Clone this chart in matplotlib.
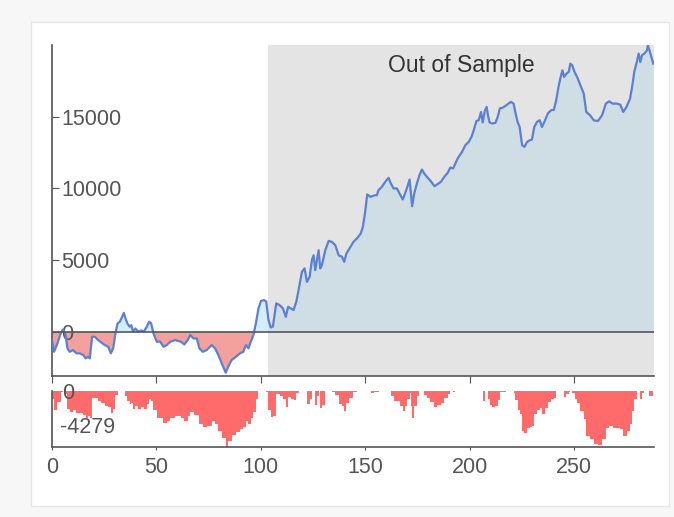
import numpy as np
import pandas as pd
import matplotlib
matplotlib.use('Agg')
import matplotlib.pyplot as plt
from matplotlib.patches import Rectangle
import matplotlib.transforms as mtransforms

plt.rcParams['font.family'] = ['Liberation Sans', 'DejaVu Sans']

# equity curve (x = bar index, y = cumulative P&L)
x_vals = [
    0, 1, 2.6, 4.2, 5.3, 6.3, 7.4, 8.5, 10.1, 11.7, 13.3, 15, 16.1, 17.4, 18.1,
    19.2, 20.5, 22.1, 23.7, 25.3, 26.9, 28.2, 29.3, 30.4, 31.4, 32.5, 33.6, 34.4,
    35.2, 36.1, 37.2, 38, 38.8, 39.9, 41.2, 42.8, 44, 45.4, 46.5, 47.5, 48.6,
    50.2, 51.8, 53.4, 55, 56.6, 59, 61.8, 63.4, 65, 66.2, 67.8, 69.4, 70.6, 72.2,
    74.1, 76.5, 78.1, 79.7, 81.3, 83.2, 84.4, 86, 88.1, 90, 91.6, 92.9, 94.1,
    95.2, 96.5, 97.8, 98.9, 100.1, 101.6, 102.6,
    103.7, 104.8, 105.8, 107.4, 109, 110.6, 112, 113.1, 114.4, 115.7, 117, 118.1,
    119.7, 121, 122.1, 123.4, 124.5, 125.3, 126.1, 126.9, 127.7, 128.5, 129.3,
    130.9, 132.5, 134.1, 135.7, 137.3, 138.9, 140, 141, 142.5, 144.4, 146.3,
    147.9, 148.9, 149.9, 151, 152.6, 154.2, 155.6, 156.4, 158, 159.6, 161.2,
    162.3, 163.6, 165.2, 166.5, 168, 169.1, 170.2, 171.3, 171.9, 172.5, 173.5,
    174.8, 176, 177.2, 178.3, 179.6, 181.3, 183.2, 184.5, 186.3, 187.9, 189.5,
    190.8, 192.1, 193.2, 194.3, 196.4, 198, 199.6, 200.9, 202, 203.3, 204.4,
    205.5, 206.3, 207.3, 208.2, 208.8, 209.6, 210.8, 212.4, 213.5, 214.5, 216.1,
    217.6, 218.7, 219.8, 221.1, 221.9, 223, 224, 225.2, 226.3, 227.6, 228.8,
    229.9, 231, 232.3, 233.6, 234.7, 236.2, 237.5, 239.1, 240.4, 241.5, 242.6,
    243.7, 244.5, 245.3, 246.4, 247.5, 248.3, 249.2, 250.3, 251.4, 253.1, 254.7,
    255.9, 257.7, 259.6, 261.5, 263.5, 265.3, 266.9, 268.5, 270.6, 272.2, 273.6,
    275.2, 276.9, 278, 278.9, 280.3, 281, 281.8, 282.6, 283.7, 285, 285.4, 286.2,
    288,
]
equity = [
    -590, -1410, -820, -100, 150, -100, -1170, -1410, -1290, -1520, -1520, -1640,
    -1870, -1750, -1870, -360, -360, -590, -780, -940, -1060, -1520, -1170, -130,
    570, 690, 1030, 1310, 920, 570, 340, 450, 0, 220, 0, 80, 0, 340, 690, 570,
    -130, -710, -700, -1060, -940, -710, -590, -710, -900, -590, -240, -480, -480,
    -1170, -1410, -1290, -940, -1170, -1640, -2220, -2870, -2450, -1990, -1760,
    -1520, -1410, -940, -1170, -710, -240, 690, 1620, 2130, 2200, 2100,
    800, 290, 350, 1970, 1850, 1620, 1030, 1730, 1620, 1500, 2080, 2890,
    4170, 4410, 3470, 3820, 4990, 5330, 4290, 4990, 5680, 4410, 4640,
    5680, 6330, 6260, 6030, 5330, 5220, 4870, 5450, 5800, 6260, 6540,
    6850, 7310, 8240, 9570, 9400, 9500, 9520, 9870, 10100, 10450, 10730,
    10340, 9990, 9990, 9640, 9220, 9640, 10100, 10610, 9640, 8750, 9640,
    10340, 10910, 11310, 11030, 10800, 10520, 10150, 10270, 10450, 10800, 11070,
    11450, 11380, 11730, 12080, 12540, 13010, 13240, 13580, 14050, 14700, 14750,
    15330, 14600, 15400, 15680, 15100, 14600, 14520, 14570, 14980, 15570, 15640,
    15800, 15910, 16030, 15910, 15330, 14630, 14280, 13010, 12890, 13240, 13350,
    13400, 14280, 14630, 14750, 14280, 14750, 15220, 15450, 15480, 16140, 17070,
    17810, 18230, 17770, 18000, 18120, 18700, 18580, 18120, 17810, 17190, 16610,
    15330, 15100, 14730, 14700, 15100, 15910, 16070, 15910, 15910, 15840, 15330,
    15680, 16260, 17190, 18120, 18930, 19400, 18810, 19280, 19400, 19630, 19980, 19630,
    18700,
]
oos_start = 103.6
main_yticks = [0, 5000, 10000, 15000]
x_ticks = [0, 50, 100, 150, 200, 250]
dd_label = '-4279'

xs = np.array(x_vals, dtype=float)
eq = pd.Series(equity, dtype=float)
# drawdown from running peak (starting capital as zero baseline)
peak = eq.clip(lower=0).cummax()
dd = (eq - peak).to_numpy()
x_end = 288.5

fig = plt.figure(figsize=(6.74, 5.17), dpi=100)
fig.patch.set_facecolor('#f7f7f7')
fig.patches.append(Rectangle((31 / 674, 1 - 506 / 517), 638 / 674, 484 / 517,
                             transform=fig.transFigure, facecolor='white',
                             edgecolor='#e6e6e6', lw=1, zorder=-10))

ax = fig.add_axes([52 / 674, 141 / 517, 602.3 / 674, 331 / 517])
ax2 = fig.add_axes([52 / 674, 70 / 517, 602.3 / 674, 56 / 517], sharex=ax)
for a in (ax, ax2):
    a.set_facecolor('none')
    for s in ('top', 'right'):
        a.spines[s].set_visible(False)
    for s in ('left', 'bottom'):
        a.spines[s].set_color('#555555')
        a.spines[s].set_linewidth(1.2)

# --- main equity panel ---
ax.axvspan(oos_start, x_end, color='#e4e4e4', lw=0, zorder=0)
is_clip = Rectangle((0, -1e6), oos_start, 2e6, transform=ax.transData)
oos_clip = Rectangle((oos_start, -1e6), 1000, 2e6, transform=ax.transData)
pos = ax.fill_between(xs, equity, 0, where=eq.to_numpy() >= 0, interpolate=True,
                      color='#d3eefa', lw=0, zorder=1)
neg = ax.fill_between(xs, equity, 0, where=eq.to_numpy() <= 0, interpolate=True,
                      color='#f4a09c', lw=0, zorder=1)
pos.set_clip_path(is_clip)
neg.set_clip_path(is_clip)
oos = ax.fill_between(xs, equity, 0, color='#cfdde5', lw=0, zorder=1)
oos.set_clip_path(oos_clip)
ax.plot(xs, equity, color='#5b80d4', lw=1.6, zorder=3)
ax.axhline(0, color='#555555', lw=1.2, zorder=4)

ax.set_xlim(0, x_end)
ax.set_ylim(-3100, 20000)
ax.set_yticks(main_yticks)
ax.set_yticklabels([str(v) for v in main_yticks])
ax.tick_params(axis='y', direction='in', length=5, pad=-6.5, colors='#555555',
               labelsize=15.5)
for lbl in ax.get_yticklabels():
    lbl.set_horizontalalignment('left')
ax.set_xticks(x_ticks)
ax.tick_params(axis='x', direction='out', length=5, colors='#555555',
               labelbottom=False)
ax.text((oos_start + x_end) / 2, 0.937, 'Out of Sample',
        transform=mtransforms.blended_transform_factory(ax.transData, ax.transAxes),
        ha='center', va='center', fontsize=16.5, color='#333333', zorder=5)

# --- drawdown panel ---
ax2.bar(xs[:-1], dd[:-1], width=np.diff(xs), align='edge', color='#ff6b6b',
        lw=0)
ax2.set_ylim(dd.min(), 0)
ax2.set_yticks([0])
ax2.set_yticklabels(['0'])
ax2.tick_params(axis='y', direction='in', length=0, pad=-7, colors='#555555',
                labelsize=15.5)
for lbl in ax2.get_yticklabels():
    lbl.set_horizontalalignment('left')
ax2.text(0.013, 0.34, dd_label, transform=ax2.transAxes, ha='left',
         va='center', fontsize=15.5, color='#555555')
ax2.tick_params(axis='x', direction='out', length=2, pad=5, colors='#555555',
                labelsize=15.5)

fig.savefig('out.png', dpi=100, facecolor=fig.get_facecolor())
